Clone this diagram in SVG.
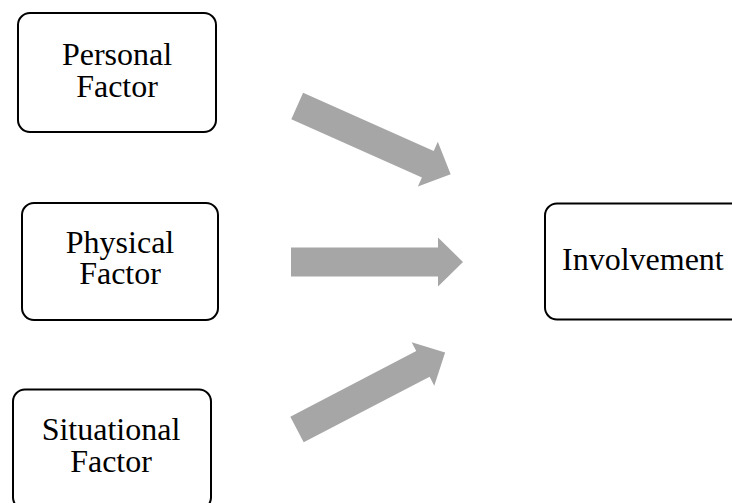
<svg xmlns="http://www.w3.org/2000/svg" width="732" height="503" viewBox="0 0 732 503">
<style>
.box{fill:#fff;stroke:#000;stroke-width:2}
.lbl{font-family:"Liberation Serif","Times New Roman",serif;font-size:32px;fill:#000}
.arr{fill:#a6a6a6}
</style>
<rect width="732" height="503" fill="#fff"/>
<g id="personal">
<rect class="box" x="18" y="13" width="198" height="119" rx="12"/>
<text class="lbl" text-anchor="middle"><tspan x="117" y="65">Personal</tspan><tspan x="117" y="97">Factor</tspan></text>
</g>
<g id="physical">
<rect class="box" x="22" y="203" width="196" height="117" rx="12"/>
<text class="lbl" text-anchor="middle"><tspan x="120" y="253">Physical</tspan><tspan x="120" y="284">Factor</tspan></text>
</g>
<g id="situational">
<rect class="box" x="13" y="389.5" width="198" height="120" rx="12"/>
<text class="lbl" text-anchor="middle"><tspan x="111" y="440">Situational</tspan><tspan x="111" y="472">Factor</tspan></text>
</g>
<g id="involvement">
<rect class="box" x="545" y="203.5" width="198" height="116" rx="12"/>
<text class="lbl" x="562" y="270">Involvement</text>
</g>
<g id="connectors">
<polygon class="arr" transform="translate(297.2,106) rotate(24)" points="0,-14.5 143,-14.5 143,-24.5 168,0 143,24.5 143,14.5 0,14.5"/>
<polygon class="arr" transform="translate(291,262)" points="0,-14.5 147,-14.5 147,-24.5 172,0 147,24.5 147,14.5 0,14.5"/>
<polygon class="arr" transform="translate(297,429.5) rotate(-27.5)" points="0,-14.5 142,-14.5 142,-24.5 167,0 142,24.5 142,14.5 0,14.5"/>
</g>
</svg>
